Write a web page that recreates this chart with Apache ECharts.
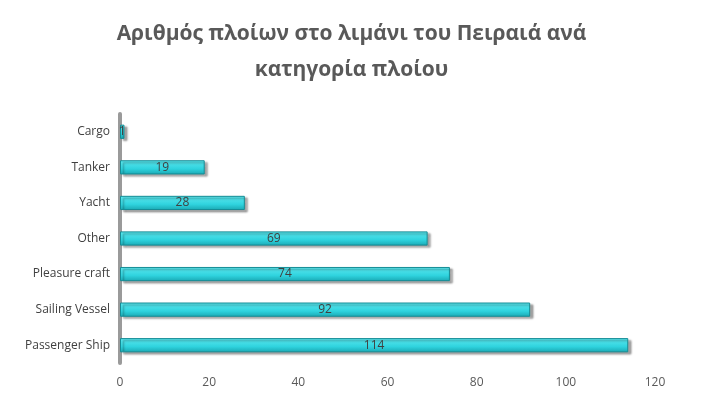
<!DOCTYPE html>
<html>
<head>
<meta charset="utf-8">
<script src="https://cdn.jsdelivr.net/npm/echarts@6/dist/echarts.min.js"></script>
<style>html,body{margin:0;padding:0;background:#fff}#chart{width:703px;height:407px}</style>
</head>
<body>
<div id="chart"></div>
<script>
const categories = ['Passenger Ship', 'Sailing Vessel', 'Pleasure craft', 'Other', 'Yacht', 'Tanker', 'Cargo'];
const counts = [114, 92, 74, 69, 28, 19, 1];
const tickMax = 120;

const chart = echarts.init(document.getElementById('chart'));
chart.setOption({
  backgroundColor: '#ffffff',
  title: {
    text: 'Αριθμός πλοίων στο λιμάνι του Πειραιά ανά\nκατηγορία πλοίου',
    left: 'center',
    top: 11,
    textStyle: { fontFamily: 'Open Sans', fontSize: 21, fontWeight: 'bold', color: '#595959', lineHeight: 36 }
  },
  grid: { left: 120, right: 48, top: 114, bottom: 44 },
  xAxis: {
    type: 'value',
    min: 0,
    max: tickMax,
    interval: 20,
    axisLine: { show: false },
    axisTick: { show: false },
    splitLine: { show: false },
    axisLabel: { color: '#595959', fontSize: 12, fontFamily: 'Open Sans', margin: 14 }
  },
  yAxis: {
    type: 'category',
    data: categories,
    axisLine: { show: true, lineStyle: { color: '#9a9a9a', width: 4 } },
    axisTick: { show: false },
    axisLabel: { color: '#404040', fontSize: 12, fontFamily: 'Open Sans', margin: 10 }
  },
  series: [{
    type: 'bar',
    data: counts,
    barWidth: '40%',
    itemStyle: {
      color: new echarts.graphic.LinearGradient(0, 0, 0, 1, [
        { offset: 0, color: '#5ee8ef' },
        { offset: 0.6, color: '#2fd3de' },
        { offset: 1, color: '#1aa8b3' }
      ]),
      borderColor: '#148c95',
      borderWidth: 1,
      shadowColor: 'rgba(0,0,0,0.35)',
      shadowOffsetX: 3,
      shadowOffsetY: 2,
      shadowBlur: 2
    },
    label: { show: true, position: 'inside', color: '#404040', fontSize: 12, fontFamily: 'Open Sans' },
    labelLayout: { hideOverlap: false }
  }]
});
</script>
</body>
</html>
